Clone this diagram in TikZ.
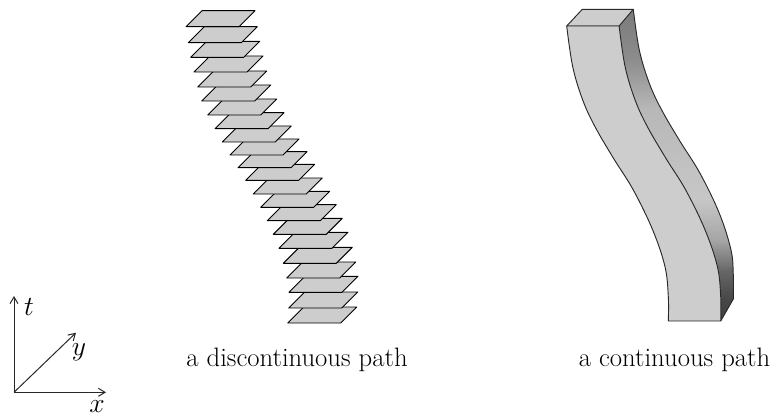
\documentclass[tikz,border=0pt]{standalone}
\usepackage{xcolor}
\usepackage{amsmath}
\usetikzlibrary{arrows.meta}
\definecolor{mydark}{RGB}{40,40,40}
\definecolor{slabgray}{RGB}{205,205,205}
\pgfdeclareverticalshading{sideshade}{100bp}{
  color(0bp)=(black!75!white);
  color(25bp)=(black!75!white);
  color(28.5bp)=(black!72!white);
  color(33bp)=(black!60!white);
  color(38bp)=(black!35!white);
  color(44.5bp)=(black!22!white);
  color(59bp)=(black!28!white);
  color(67bp)=(black!45!white);
  color(75bp)=(black!52!white);
  color(100bp)=(black!52!white)}
\tikzset{
  plate/.style={draw=black, fill=slabgray, line width=0.7pt, line join=round},
  edge/.style={draw=mydark, line width=0.7pt, line join=round},
  axis/.style={-{Straight Barb[length=5pt,width=6pt]}, line width=0.75pt, color=mydark},
  caption/.style={anchor=base, inner sep=0pt, font=\fontsize{20}{24}\selectfont},
  axislabel/.style={inner sep=0pt, font=\fontsize{20}{24}\selectfont}
}
\begin{document}
\begin{tikzpicture}[x=0.75pt, y=-0.75pt]
  \useasboundingbox (0,0) rectangle (770,417);

  % Separate plates, lowest first
  \foreach \px/\py in {287.7/323, 288.7/308, 289/292.3, 286.7/278, 283.3/263.3, 279/248.3,
    273.3/234.3, 267.3/220.7, 260.7/207.3, 253.3/194, 245.7/180.3, 238/167.7, 230/155,
    222.3/142, 215/128.7, 207.7/115, 201.7/101, 197.7/87, 194/72, 190.7/57.3, 188.3/42.7, 186/26.7}
    \draw[plate] (\px,\py) -- ++(53,0) -- ++(16,-16) -- ++(-53,0) -- cycle;

  % Solid block
  \path[shading=sideshade]
    plot[smooth, tension=0.6] coordinates {(619.1,26) (625.1,66.7) (635.1,100) (647.4,126.7) (665.7,158) (685.7,190) (705.1,230) (717.4,266.7) (720.7,296.7) (720.7,321)}
    -- plot[smooth, tension=0.6] coordinates {(733.3,299) (733.3,275) (731,250) (719.3,213.3) (700,173.3) (680,141.3) (661.7,110) (649.3,83.3) (639.3,50) (633.3,9.3)}
    -- cycle;
  \draw[edge] plot[smooth, tension=0.6] coordinates {(633.3,9.3) (639.3,50) (649.3,83.3) (661.7,110) (680,141.3) (700,173.3) (719.3,213.3) (731,250) (733.3,275) (733.3,299)}
    -- (720.7,321);
  \draw[edge, fill=slabgray] (566.7,26) -- (582.3,9.3) -- (633.3,9.3) -- (619.1,26) -- cycle;
  \draw[edge, fill=slabgray]
    plot[smooth, tension=0.6] coordinates {(566.7,26) (572.7,66.7) (582.7,100) (595,126.7) (613.3,158) (633.3,190) (652.7,230) (665,266.7) (668.3,296.7) (668.3,321)}
    -- plot[smooth, tension=0.6] coordinates {(720.7,321) (720.7,296.7) (717.4,266.7) (705.1,230) (685.7,190) (665.7,158) (647.4,126.7) (635.1,100) (625.1,66.7) (619.1,26)}
    -- cycle;

  % Axes
  \coordinate (origin) at (14,392.3);
  \coordinate (ttip) at (14,296);
  \coordinate (xtip) at (106,392.3);
  \coordinate (ytip) at (76,332.7);
  \draw[axis] (origin) -- (ttip);
  \draw[axis] (origin) -- (xtip);
  \draw[axis] (origin) -- (ytip);
  \node[axislabel] (tlabel) at (29,307) {$t$};
  \node[axislabel] (ylabel) at (79,352) {$y$};
  \node[axislabel] (xlabel) at (97,407) {$x$};

  % Captions
  \node[caption] (leftcap) at (297,366.7) {a discontinuous path};
  \node[caption] (rightcap) at (674.5,366.7) {a continuous path};
\end{tikzpicture}
\end{document}
